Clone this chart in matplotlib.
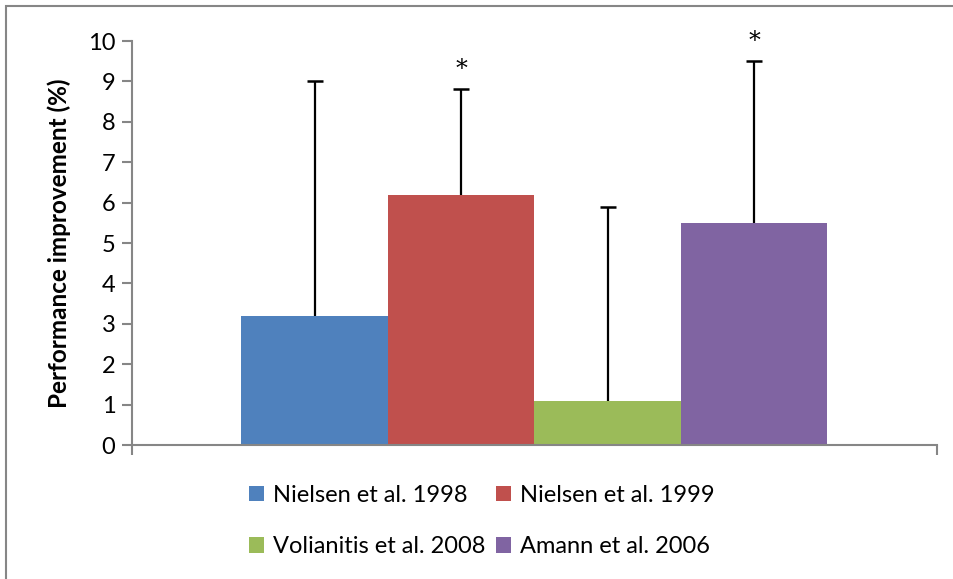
import matplotlib
matplotlib.use("Agg")
import matplotlib.pyplot as plt
from matplotlib.patches import Rectangle
import numpy as np

plt.rcParams['font.family'] = ['Lato', 'DejaVu Sans']

studies = ["Nielsen et al. 1998", "Nielsen et al. 1999", "Volianitis et al. 2008", "Amann et al. 2006"]
values = [3.2, 6.2, 1.1, 5.5]
errors_up = [5.8, 2.6, 4.8, 4.0]
significant = [False, True, False, True]
colors = ["#4F81BD", "#C0504D", "#9BBB59", "#8064A2"]
yticks = list(range(0, 11))

fig = plt.figure(figsize=(9.54, 5.79), dpi=100)
ax = fig.add_axes([132/954, 1-445/579, 805/954, 404/579])

w = 146.5/805
n = len(studies)
xs = [(i - (n-1)/2) * w for i in range(n)]
handles = []
for x, v, e, c, lab, sig in zip(xs, values, errors_up, colors, studies, significant):
    b = ax.bar(x, v, width=w, color=c, label=lab, zorder=2)
    handles.append(b)
    ax.vlines(x, v, v + e, color='black', linewidth=1.6, zorder=3)
    ax.plot([x], [v + e], marker='_', markersize=12, markeredgewidth=1.8, color='black', zorder=3)
    if sig:
        ax.text(x, v + e + 0.2, "*", ha='center', va='bottom', fontsize=17,
                family='DejaVu Serif', color='black')

ax.set_xlim(-0.5, 0.5)
ax.set_ylim(0, 10)
ax.set_yticks(yticks)
ax.set_yticklabels([str(t) for t in yticks], fontsize=17)
ax.set_xticks([-0.5, 0.5])
ax.set_xticklabels(["", ""])
ax.tick_params(axis='y', direction='out', length=7, width=1.5, color='#868686', pad=5)
ax.tick_params(axis='x', direction='out', length=7, width=1.5, color='#868686')
for s in ['top', 'right']:
    ax.spines[s].set_visible(False)
for s in ['left', 'bottom']:
    ax.spines[s].set_color('#868686')
    ax.spines[s].set_linewidth(1.5)
ax.set_ylabel("Performance improvement (%)", fontsize=17.5, fontweight='bold')
ax.yaxis.set_label_coords(-0.076, 0.5)

order = [0, 2, 1, 3]
fig.legend(handles=[handles[i] for i in order], labels=[studies[i] for i in order], ncol=2,
           loc='center', bbox_to_anchor=(482/954, 1-521/579),
           frameon=False, fontsize=17, handlelength=0.62, handleheight=0.62, handletextpad=0.4,
           columnspacing=0.45, labelspacing=1.3)

fig.patches.append(Rectangle((6/954, -0.1), 2, 1 - 6/579 + 0.1, transform=fig.transFigure,
                             fill=False, edgecolor='#868686', linewidth=1.5))

fig.savefig("out.png", dpi=100)
